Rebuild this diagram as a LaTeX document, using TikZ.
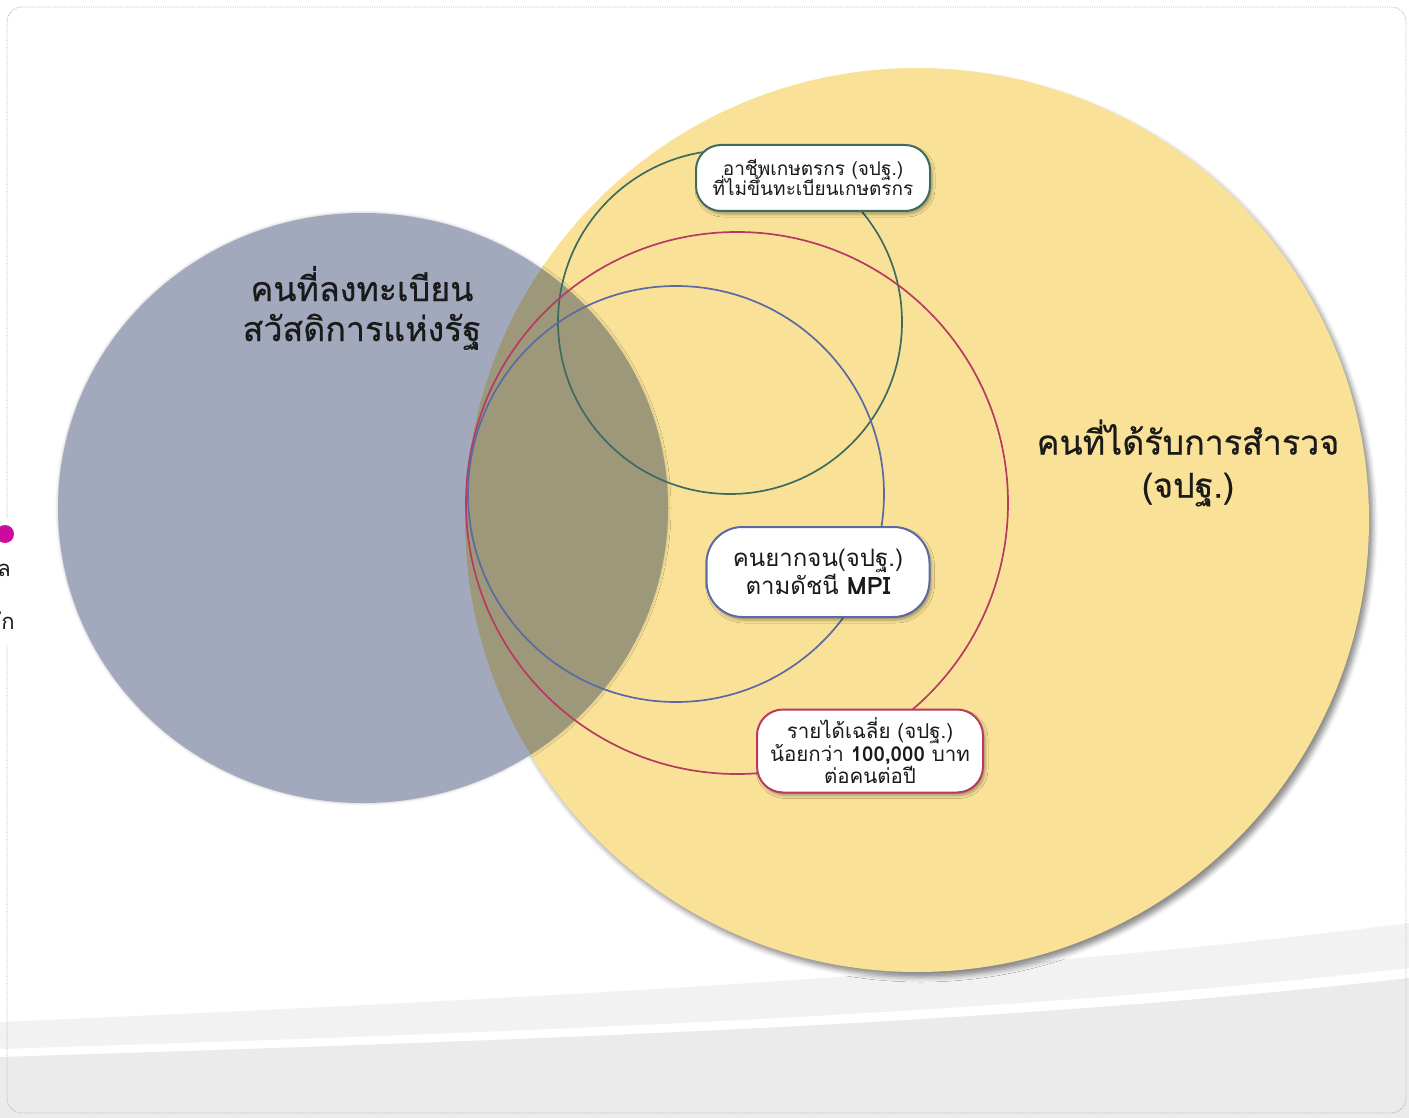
\documentclass[tikz,border=0pt]{standalone}
\usepackage{fontspec}
\setmainfont[Script=Thai]{Loma}
\newfontfamily\medfont[Script=Thai,FakeBold=0.6]{Loma}
\usetikzlibrary{shadows.blur}
\newcommand\tightlines{\lineskiplimit=-30pt\relax}
\definecolor{ylw}{HTML}{F9E297}
\definecolor{grayc}{HTML}{A3A9BD}
\definecolor{olivec}{HTML}{9E987A}
\definecolor{grn}{HTML}{3E6B60}
\definecolor{crim}{HTML}{B83A62}
\definecolor{blu}{HTML}{5B6AA3}
\definecolor{bandA}{HTML}{F2F2F2}
\definecolor{bandB}{HTML}{EBEBEB}
\definecolor{magent}{HTML}{CC0A9E}
\definecolor{txt}{HTML}{1A1A1A}
\begin{document}
\begin{tikzpicture}[x=1pt,y=-1pt,
  lbl/.style={draw, line width=2pt, fill=white, align=center, inner sep=0pt, text=txt,
    blur shadow={shadow xshift=2pt, shadow yshift=-3pt, shadow blur radius=3pt, shadow opacity=35}},
  big/.style={align=center, text=txt, font=\medfont\fontsize{34}{40}\selectfont},
  venn/.style={line width=1.7pt}
]
\useasboundingbox (0,0) rectangle (1409,1118);
% background bands
\fill[bandA] (0,1022) .. controls (500,1000) and (1000,975) .. (1409,923) -- (1409,1118) -- (0,1118) -- cycle;
\fill[white] (0,1049) .. controls (500,1033) and (1000,1015) .. (1409,968) -- (1409,1118) -- (0,1118) -- cycle;
\fill[bandB] (0,1057) .. controls (500,1041) and (1000,1025) .. (1409,978) -- (1409,1118) -- (0,1118) -- cycle;
% frame
\draw[black!30, densely dotted, line width=0.8pt, rounded corners=15pt] (7,7) rectangle (1406,1113);
\fill[white] (0,518) rectangle (14,645);
\fill[magent] (5,534) circle (9pt);
\node[anchor=east, text=txt, font=\fontsize{22}{26}\selectfont, inner sep=0pt] (cutA) at (11,570) {ล};
\node[anchor=east, text=txt, font=\fontsize{22}{26}\selectfont, inner sep=0pt] (cutB) at (15,621) {ัก};
% big circles
\fill[ylw, blur shadow={shadow xshift=4pt, shadow yshift=-5pt, shadow blur radius=5pt, shadow opacity=45}] (917,520) ellipse (452pt and 452pt);
\fill[grayc, blur shadow={shadow xshift=0pt, shadow yshift=0pt, shadow blur radius=3pt, shadow opacity=25}] (363,508) ellipse (305pt and 295pt);
\begin{scope}
  \clip (917,520) circle (452pt);
  \fill[olivec] (363,508) ellipse (305pt and 295pt);
\end{scope}
% inner circles
\draw[venn, grn] (730,322) circle (172pt);
\draw[venn, crim] (737,503) circle (271pt);
\draw[venn, blu] (676,494) circle (208pt);
% labels
\node[big] (reg) at (362,308) {คนที่ลงทะเบียน\\สวัสดิการแห่งรัฐ};
\node[big, font=\medfont\fontsize{34}{43}\selectfont] (surv) at (1188,463) {คนที่ได้รับการสำรวจ\\(จปฐ.)};
\node[lbl, draw=grn, rounded corners=25pt, minimum width=234pt, minimum height=66pt,
  font=\fontsize{19}{20}\selectfont\tightlines] (agri) at (813,178) {อาชีพเกษตรกร (จปฐ.)\\ที่ไม่ขึ้นทะเบียนเกษตรกร};
\node[lbl, draw=blu, rounded corners=36pt, minimum width=223pt, minimum height=90pt,
  font=\fontsize{24}{28}\selectfont\tightlines] (mpi) at (818,572) {คนยากจน(จปฐ.)\\ตามดัชนี \textbf{MPI}};
\node[lbl, draw=crim, rounded corners=26pt, minimum width=226pt, minimum height=83pt,
  font=\fontsize{20.5}{22.5}\selectfont\tightlines] (inc) at (870,751) {รายได้เฉลี่ย (จปฐ.)\\น้อยกว่า \textbf{100,000} บาท\\ต่อคนต่อปี};
\end{tikzpicture}
\end{document}
